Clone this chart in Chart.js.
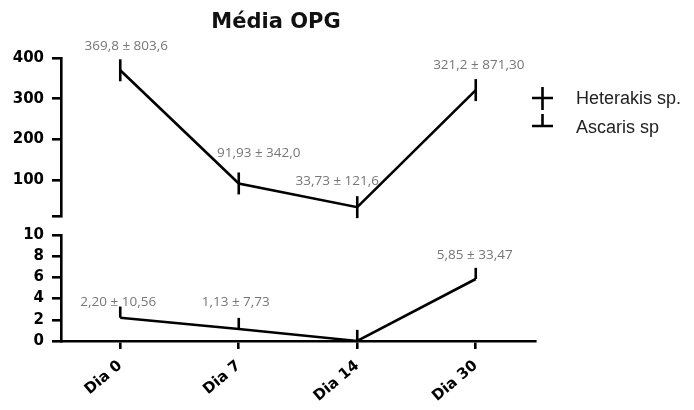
<!DOCTYPE html>
<html>
<head>
<meta charset="utf-8">
<title>Média OPG</title>
<script src="https://cdn.jsdelivr.net/npm/chart.js@4/dist/chart.umd.min.js"></script>
<style>
  html, body { margin: 0; padding: 0; background: #fff; }
  canvas { display: block; }
</style>
</head>
<body>
<canvas id="c" width="694" height="410"></canvas>
<script>
// Sampling days
const categories = ['Dia 0', 'Dia 7', 'Dia 14', 'Dia 30'];

// Heterakis sp. — mean OPG and standard deviation (as printed)
const heterakisMeanText = ['369,8', '91,93', '33,73', '321,2'];
const heterakisSD = ['803,6', '342,0', '121,6', '871,30'];
// half-length of the drawn error bar (data units, upper segment)
const heterakisBar = [27, 27, 27, 27];

// Ascaris sp — mean OPG and standard deviation (as printed)
const ascarisMeanText = ['2,20', '1,13', '0', '5,85'];
const ascarisSD = ['10,56', '7,73', '', '33,47'];
// upward error bar length (data units, lower segment)
const ascarisBar = [1.05, 1.05, 1.05, 1.05];

// Broken y axis: upper segment and lower segment
const topBreak = 12;
const topTicks = [100, 200, 300, 400];
const bottomTicks = [0, 2, 4, 6, 8, 10];

const toNum = s => parseFloat(s.replace(',', '.'));
const heterakisMean = heterakisMeanText.map(toNum);
const ascarisMean = ascarisMeanText.map(toNum);

// value label placement relative to each point (px)
const hetLabelShift = [[6, -24], [20, -30], [-20, -26], [3, -25]];
const ascLabelShift = [[-2, -16], [-3, -27], [0, 0], [-1, -24]];

const INK = '#000';
const LW = 2.6;

Chart.defaults.font.family = "'DejaVu Sans', sans-serif";

const axisFont = { family: "'DejaVu Sans', sans-serif", size: 15, weight: 'bold' };

function yAxisCommon() {
  return {
    position: 'left',
    stack: 'opg',
    grid: { display: true, drawOnChartArea: false, drawTicks: true, tickLength: 9, color: INK, lineWidth: LW },
    border: { display: true, color: INK, width: LW },
    afterFit: s => { s.width = 61; }
  };
}

const errorBars = {
  id: 'errorBars',
  afterDatasetsDraw(chart) {
    const { ctx, scales } = chart;
    const x = scales.x, yt = scales.yTop, yb = scales.yBot;
    ctx.save();
    ctx.strokeStyle = INK;
    ctx.lineWidth = LW;
    ctx.lineCap = 'butt';
    heterakisMean.forEach((m, i) => {
      const px = x.getPixelForValue(i);
      ctx.beginPath();
      ctx.moveTo(px, yt.getPixelForValue(m + heterakisBar[i]));
      ctx.lineTo(px, yt.getPixelForValue(m - heterakisBar[i]));
      ctx.stroke();
    });
    ascarisMean.forEach((m, i) => {
      const px = x.getPixelForValue(i);
      ctx.beginPath();
      ctx.moveTo(px, yb.getPixelForValue(m + ascarisBar[i]));
      ctx.lineTo(px, yb.getPixelForValue(m));
      ctx.stroke();
    });
    ctx.restore();
  }
};

const valueLabels = {
  id: 'valueLabels',
  afterDatasetsDraw(chart) {
    const { ctx, scales } = chart;
    const x = scales.x;
    ctx.save();
    ctx.fillStyle = '#767676';
    ctx.font = "13.5px 'Open Sans', Lato, sans-serif";
    ctx.textAlign = 'center';
    ctx.textBaseline = 'middle';
    const put = (means, meanText, sd, shift, scale) => {
      means.forEach((m, i) => {
        if (!sd[i]) return;
        const px = x.getPixelForValue(i) + shift[i][0];
        const py = scale.getPixelForValue(m) + shift[i][1];
        ctx.fillText(meanText[i] + ' \u00b1 ' + sd[i], px, py);
      });
    };
    put(heterakisMean, heterakisMeanText, heterakisSD, hetLabelShift, scales.yTop);
    put(ascarisMean, ascarisMeanText, ascarisSD, ascLabelShift, scales.yBot);
    ctx.restore();
  }
};

const titleAndLegend = {
  id: 'titleAndLegend',
  afterDraw(chart) {
    const { ctx } = chart;
    ctx.save();
    // title
    ctx.fillStyle = '#111';
    ctx.font = "bold 21px 'DejaVu Sans', sans-serif";
    ctx.textAlign = 'center';
    ctx.textBaseline = 'alphabetic';
    ctx.fillText('Média OPG', 276, 28);

    // legend symbols
    ctx.strokeStyle = INK;
    ctx.lineWidth = LW;
    ctx.beginPath();
    ctx.moveTo(532, 98); ctx.lineTo(553, 98);
    ctx.moveTo(542.5, 87); ctx.lineTo(542.5, 110);
    ctx.moveTo(532, 126); ctx.lineTo(553, 126);
    ctx.moveTo(542.5, 114); ctx.lineTo(542.5, 126);
    ctx.stroke();

    // legend text
    ctx.fillStyle = '#222';
    ctx.font = "18px 'Liberation Sans', Arial, sans-serif";
    ctx.textAlign = 'left';
    ctx.textBaseline = 'middle';
    ctx.fillText('Heterakis sp.', 576, 99);
    ctx.fillText('Ascaris sp', 576, 128);
    ctx.restore();
  }
};

new Chart(document.getElementById('c'), {
  type: 'line',
  data: {
    labels: categories,
    datasets: [
      {
        label: 'Heterakis sp.',
        data: heterakisMean,
        yAxisID: 'yTop',
        borderColor: INK,
        borderWidth: LW,
        pointRadius: 0,
        tension: 0,
        fill: false,
        clip: false
      },
      {
        label: 'Ascaris sp',
        data: ascarisMean,
        yAxisID: 'yBot',
        borderColor: INK,
        borderWidth: LW,
        pointRadius: 0,
        tension: 0,
        fill: false,
        clip: false
      }
    ]
  },
  options: {
    responsive: false,
    animation: false,
    devicePixelRatio: 1,
    layout: { padding: { top: 58, right: 159, left: 0, bottom: 0 } },
    plugins: {
      legend: { display: false },
      title: { display: false },
      tooltip: { enabled: false }
    },
    scales: {
      x: {
        type: 'category',
        offset: true,
        grid: { display: true, drawOnChartArea: false, drawTicks: true, tickLength: 8, color: INK, lineWidth: LW },
        border: { display: true, color: INK, width: LW },
        ticks: { color: INK, font: axisFont, minRotation: 40, maxRotation: 40, padding: 8 },
        afterFit: s => { s.height = 69; }
      },
      // stacked scales on the left are placed bottom-up in declaration order
      yBot: Object.assign(yAxisCommon(), {
        type: 'linear',
        min: 0,
        max: 10,
        stackWeight: 106,
        afterBuildTicks: s => { s.ticks = bottomTicks.map(v => ({ value: v })); },
        ticks: { color: INK, font: axisFont, padding: 8, autoSkip: false }
      }),
      yGap: {
        type: 'linear',
        position: 'left',
        stack: 'opg',
        stackWeight: 19,
        min: 0,
        max: 1,
        grid: { display: false },
        border: { display: false },
        ticks: { display: false },
        afterFit: s => { s.width = 61; }
      },
      yTop: Object.assign(yAxisCommon(), {
        type: 'linear',
        min: topBreak,
        max: 400,
        stackWeight: 158,
        afterBuildTicks: s => { s.ticks = [topBreak].concat(topTicks).map(v => ({ value: v })); },
        ticks: { color: INK, font: axisFont, padding: 8, autoSkip: false, callback: v => (topTicks.includes(v) ? String(v) : '') }
      })
    }
  },
  plugins: [errorBars, valueLabels, titleAndLegend]
});
</script>
</body>
</html>
